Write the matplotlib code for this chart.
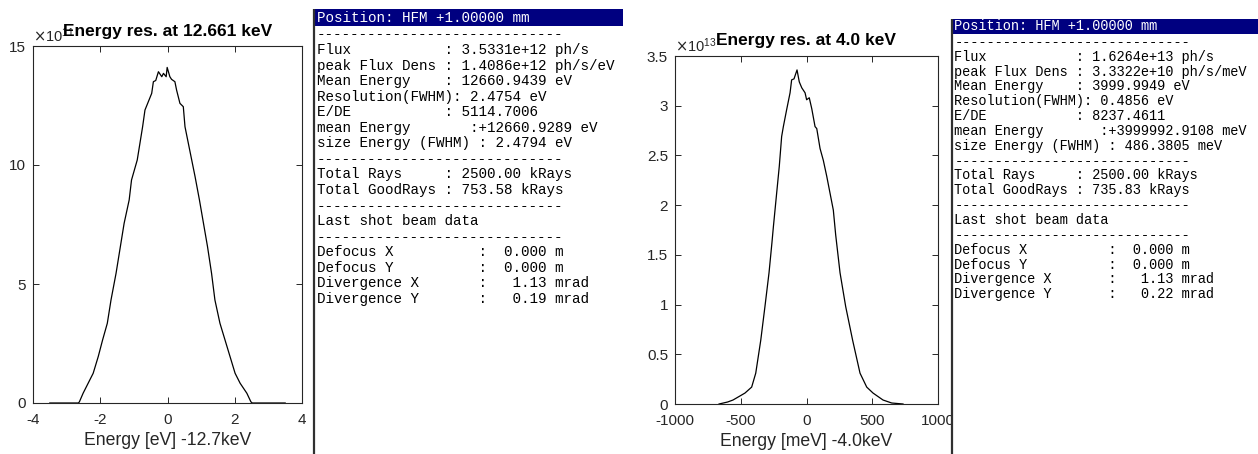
import matplotlib
matplotlib.use("Agg")
import matplotlib.pyplot as plt
import numpy as np
from matplotlib.patches import Rectangle
from matplotlib.ticker import ScalarFormatter, FormatStrFormatter

# ---------------- data ----------------
left_title = "Energy res. at 12.661 keV"
left_xlabel = "Energy [eV] -12.7keV"
left_x = [-3.5, -2.65, -2.62, -2.51, -2.36, -2.21, -2.06, -1.93, -1.79, -1.68,
          -1.53, -1.41, -1.29, -1.14, -1.07, -0.90, -0.74, -0.67, -0.47, -0.42,
          -0.35, -0.27, -0.17, -0.12, -0.04, -0.01, 0.07, 0.12, 0.22, 0.27,
          0.37, 0.47, 0.52, 0.72, 0.82, 0.95, 1.07, 1.19, 1.31, 1.41,
          1.56, 1.71, 1.86, 2.01, 2.16, 2.36, 2.48, 2.52, 3.5]
left_y = [0.0, 0.0, 0.05, 0.41, 0.83, 1.25, 1.95, 2.65, 3.35, 4.33,
          5.45, 6.50, 7.55, 8.53, 9.37, 10.21, 11.61, 12.31, 13.01, 13.50,
          13.55, 13.92, 13.71, 13.85, 13.71, 14.10, 13.71, 13.60, 13.50, 13.15,
          12.59, 12.45, 11.61, 10.21, 9.51, 8.53, 7.55, 6.57, 5.45, 4.33,
          3.35, 2.65, 1.95, 1.25, 0.83, 0.41, 0.05, 0.0, 0.0]
left_exp = 11
left_xticks = [-4, -2, 0, 2, 4]
left_yticks = [0, 5, 10, 15]

right_title = "Energy res. at 4.0 keV"
right_xlabel = "Energy [meV] -4.0keV"
right_x = [-665, -600, -559, -468, -417, -386, -348, -316, -285, -263,
           -252, -227, -207, -189, -176, -151, -125, -113, -95, -72,
           -55, -36, -11, 1, 21, 40, 65, 78, 103, 128,
           154, 179, 204, 222, 255, 298, 351, 407, 458, 506,
           582, 648, 734]
right_y = [0.0, 0.02, 0.04, 0.11, 0.17, 0.31, 0.64, 0.98, 1.32, 1.62,
           1.78, 2.12, 2.39, 2.69, 2.79, 2.96, 3.13, 3.26, 3.27, 3.36,
           3.24, 3.18, 3.13, 3.06, 3.08, 2.97, 2.79, 2.77, 2.57, 2.45,
           2.29, 2.12, 1.95, 1.70, 1.32, 0.98, 0.64, 0.31, 0.17, 0.11,
           0.04, 0.01, 0.0]
right_exp = 13
right_xticks = [-1000, -500, 0, 500, 1000]
right_yticks = [0, 0.5, 1, 1.5, 2, 2.5, 3, 3.5]

dash = "-" * 29
panel1_header = "Position: HFM +1.00000 mm"
panel1_lines = [
    dash,
    "Flux           : 3.5331e+12 ph/s",
    "peak Flux Dens : 1.4086e+12 ph/s/eV",
    "Mean Energy    : 12660.9439 eV",
    "Resolution(FWHM): 2.4754 eV",
    "E/DE           : 5114.7006",
    "mean Energy       :+12660.9289 eV",
    "size Energy (FWHM) : 2.4794 eV",
    dash,
    "Total Rays     : 2500.00 kRays",
    "Total GoodRays : 753.58 kRays",
    dash,
    "Last shot beam data",
    dash,
    "Defocus X          :  0.000 m",
    "Defocus Y          :  0.000 m",
    "Divergence X       :   1.13 mrad",
    "Divergence Y       :   0.19 mrad",
]
panel2_header = "Position: HFM +1.00000 mm"
panel2_lines = [
    dash,
    "Flux           : 1.6264e+13 ph/s",
    "peak Flux Dens : 3.3322e+10 ph/s/meV",
    "Mean Energy    : 3999.9949 eV",
    "Resolution(FWHM): 0.4856 eV",
    "E/DE           : 8237.4611",
    "mean Energy       :+3999992.9108 meV",
    "size Energy (FWHM) : 486.3805 meV",
    dash,
    "Total Rays     : 2500.00 kRays",
    "Total GoodRays : 735.83 kRays",
    dash,
    "Last shot beam data",
    dash,
    "Defocus X          :  0.000 m",
    "Defocus Y          :  0.000 m",
    "Divergence X       :   1.13 mrad",
    "Divergence Y       :   0.22 mrad",
]

# ---------------- figure ----------------
W, H = 1258, 454
plt.rcParams["font.family"] = ["Liberation Sans", "DejaVu Sans"]
plt.rcParams["axes.unicode_minus"] = False
fig = plt.figure(figsize=(W / 100, H / 100), dpi=100)
fig.patch.set_facecolor("white")

AX_COL = "#262626"


class GFormatter(ScalarFormatter):
    def _set_format(self):
        self.format = "%g"


def px_axes(x0, x1, ytop, ybot):
    return fig.add_axes([x0 / W, (H - ybot) / H, (x1 - x0) / W, (ybot - ytop) / H])


def style(ax, xs, ys, exp, xticks, yticks, xlim, ylim, title, xlabel, title_px, ax_h_px):
    ax.plot(np.array(xs), np.array(ys) * 10.0 ** exp, color="black", lw=0.9)
    ax.set_xlim(*xlim)
    ax.set_ylim(ylim[0] * 10.0 ** exp, ylim[1] * 10.0 ** exp)
    ax.set_xticks(xticks)
    ax.set_yticks(np.array(yticks) * 10.0 ** exp)
    fmt = GFormatter(useMathText=True)
    fmt.set_powerlimits((exp, exp))
    ax.yaxis.set_major_formatter(fmt)
    ax.xaxis.set_major_formatter(FormatStrFormatter("%g"))
    ax.tick_params(direction="in", top=True, right=True, length=4, width=0.7,
                   labelsize=11, colors=AX_COL)
    ax.tick_params(axis="x", pad=7)
    ax.tick_params(axis="y", pad=5)
    for s in ax.spines.values():
        s.set_color(AX_COL)
        s.set_linewidth(0.8)
    ax.yaxis.get_offset_text().set_fontsize(10.5)
    ax.yaxis.get_offset_text().set_color(AX_COL)
    ax.set_xlabel(xlabel, fontsize=12.7, color=AX_COL, labelpad=4)
    ax.set_title(title, fontsize=12.5, fontweight="bold", color="black",
                 y=1 + title_px / ax_h_px, pad=0)


axL = px_axes(33, 302, 46, 403)
style(axL, left_x, left_y, left_exp, left_xticks, left_yticks, (-4, 4), (0, 15),
      left_title, left_xlabel, 10, 357)

axR = px_axes(675, 938, 56, 404)
style(axR, right_x, right_y, right_exp, right_xticks, right_yticks, (-1000, 1000), (0, 3.5),
      right_title, right_xlabel, 11, 348)

# ---------------- text panels (overlay in pixel coords) ----------------
ov = fig.add_axes([0, 0, 1, 1], zorder=10)
ov.set_xlim(0, W)
ov.set_ylim(H, 0)
ov.axis("off")
ov.patch.set_alpha(0)

NAVY = "#000080"
MONO = ["Liberation Mono", "DejaVu Sans Mono"]

# panel 1
ov.add_patch(Rectangle((313, 9), 310, 17, facecolor=NAVY, edgecolor="none"))
ov.plot([313.5, 313.5], [9, H], color="#303030", lw=1.6, solid_capstyle="butt")
ov.text(317, 21.5, panel1_header, family=MONO, fontsize=10.3, color="white", va="baseline")
for i, s in enumerate(panel1_lines):
    ov.text(317, 38.4 + i * 15.56, s, family=MONO, fontsize=10.3, color="black", va="baseline")

# panel 2 (white background hides clipped tick label)
ov.add_patch(Rectangle((951, 19), W - 951, H - 19, facecolor="white", edgecolor="none"))
ov.add_patch(Rectangle((951, 19), W - 951, 15, facecolor=NAVY, edgecolor="none"))
ov.plot([951.5, 951.5], [19, H], color="#303030", lw=1.6, solid_capstyle="butt")
ov.text(954.5, 30, panel2_header, family=MONO, fontsize=9.8, color="white", va="baseline")
for i, s in enumerate(panel2_lines):
    ov.text(954.5, 45.85 + i * 14.85, s, family=MONO, fontsize=9.8, color="black", va="baseline")

fig.savefig("out.png", dpi=100, facecolor="white")
